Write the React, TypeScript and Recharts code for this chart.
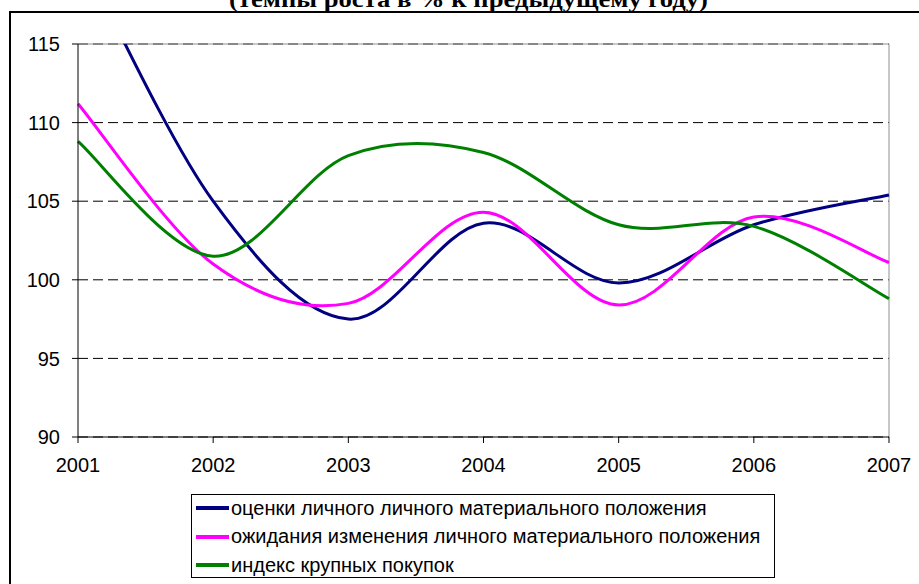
import { LineChart, Line, XAxis, YAxis, CartesianGrid, ReferenceLine } from 'recharts'

const years = [2001, 2002, 2003, 2004, 2005, 2006, 2007]
const ocenki = [121.0, 105.0, 97.5, 103.6, 99.8, 103.5, 105.4]
const ozhidaniya = [111.2, 101.0, 98.5, 104.3, 98.4, 104.0, 101.1]
const pokupki = [108.8, 101.5, 107.9, 108.1, 103.5, 103.4, 98.8]
const yTicks = [90, 95, 100, 105, 110, 115]

const seriesNames = [
  'оценки личного личного материального положения',
  'ожидания изменения личного материального положения',
  'индекс крупных покупок'
]
const seriesColors = ['#000080', '#FF00FF', '#008000']

const data = years.map((year, i) => ({
  year,
  ocenki: ocenki[i],
  ozhidaniya: ozhidaniya[i],
  pokupki: pokupki[i]
}))

// Excel-style smoothing: Catmull-Rom through the points, endpoints duplicated
function excelSmooth(context: any) {
  let pts: number[][] = []
  return {
    areaStart() {},
    areaEnd() {},
    lineStart() {
      pts = []
    },
    lineEnd() {
      if (!pts.length) return
      context.moveTo(pts[0][0], pts[0][1])
      for (let i = 0; i < pts.length - 1; i++) {
        const p0 = pts[i - 1] || pts[i]
        const p1 = pts[i]
        const p2 = pts[i + 1]
        const p3 = pts[i + 2] || pts[i + 1]
        context.bezierCurveTo(
          p1[0] + (p2[0] - p0[0]) / 6,
          p1[1] + (p2[1] - p0[1]) / 6,
          p2[0] - (p3[0] - p1[0]) / 6,
          p2[1] - (p3[1] - p1[1]) / 6,
          p2[0],
          p2[1]
        )
      }
    },
    point(x: number, y: number) {
      pts.push([+x, +y])
    }
  }
}

const FONT = '"Liberation Sans", Arial, sans-serif'
const tickStyle = { fill: '#000', fontSize: 20, fontFamily: FONT }

export default function App() {
  return (
    <div style={{ position: 'absolute', left: 0, top: 0, width: 919, height: 584, overflow: 'hidden', background: '#fff' }}>
      {/* outer chart frame, only top and left edges visible */}
      <div
        style={{
          position: 'absolute',
          left: 9,
          top: 11,
          width: 1000,
          height: 1000,
          borderLeft: '2px solid #000',
          borderTop: '2px solid #000'
        }}
      />
      <svg width={919} height={30} style={{ position: 'absolute', left: 0, top: 0 }}>
        <text
          x={229}
          y={7}
          textLength={479}
          lengthAdjust="spacingAndGlyphs"
          fontFamily='"Liberation Serif", "Times New Roman", serif'
          fontWeight="bold"
          fontSize={24}
        >
          (темпы роста в % к предыдущему году)
        </text>
      </svg>

      <div style={{ position: 'absolute', left: 0, top: 0 }}>
        <LineChart width={919} height={584} data={data} margin={{ top: 44, right: 30, left: 18, bottom: 117 }}>
          <CartesianGrid vertical={false} stroke="#000" strokeDasharray="10 5" />
          <ReferenceLine y={115} stroke="#909090" strokeWidth={1} />
          <ReferenceLine x={2007} stroke="#909090" strokeWidth={1} />
          <XAxis
            dataKey="year"
            type="number"
            domain={[2001, 2007]}
            ticks={years}
            interval={0}
            tickSize={6}
            tickMargin={15}
            height={30}
            axisLine={{ stroke: '#000' }}
            tickLine={{ stroke: '#000' }}
            tick={tickStyle}
          />
          <YAxis
            domain={[90, 115]}
            ticks={yTicks}
            allowDataOverflow
            interval={0}
            width={60}
            tickSize={6}
            tickMargin={12}
            axisLine={{ stroke: '#000' }}
            tickLine={{ stroke: '#000' }}
            tick={tickStyle}
          />
          <Line dataKey="ocenki" type={excelSmooth as any} stroke={seriesColors[0]} strokeWidth={3} dot={false} isAnimationActive={false} />
          <Line dataKey="ozhidaniya" type={excelSmooth as any} stroke={seriesColors[1]} strokeWidth={3} dot={false} isAnimationActive={false} />
          <Line dataKey="pokupki" type={excelSmooth as any} stroke={seriesColors[2]} strokeWidth={3} dot={false} isAnimationActive={false} />
        </LineChart>
      </div>

      <div
        style={{
          position: 'absolute',
          left: 191,
          top: 494,
          width: 584,
          height: 84,
          border: '1px solid #000',
          boxSizing: 'border-box',
          fontFamily: FONT,
          fontSize: 20,
          color: '#000'
        }}
      >
        {seriesNames.map((name, i) => (
          <div
            key={name}
            style={{ position: 'absolute', left: 3, top: i * 28.5 - 1, height: 28, display: 'flex', alignItems: 'center', whiteSpace: 'nowrap' }}
          >
            <svg width={36} height={10} style={{ flex: 'none' }}>
              <line x1={1} y1={5} x2={34} y2={5} stroke={seriesColors[i]} strokeWidth={4} />
            </svg>
            <span>{name}</span>
          </div>
        ))}
      </div>
    </div>
  )
}
